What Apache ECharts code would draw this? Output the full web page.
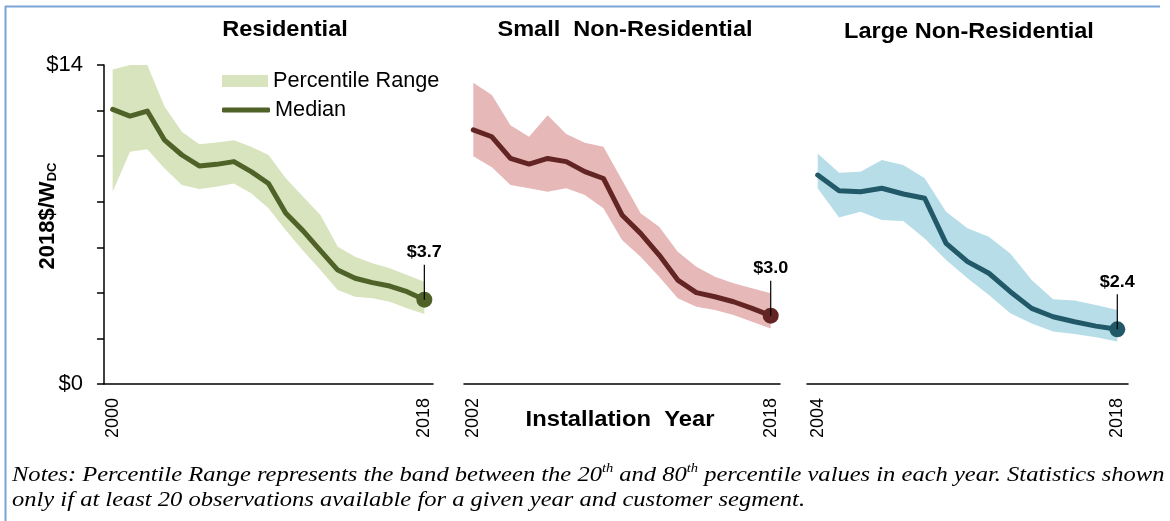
<!DOCTYPE html>
<html>
<head>
<meta charset="utf-8">
<title>Installed price trends by customer segment</title>
<script src="https://cdn.jsdelivr.net/npm/echarts@6/dist/echarts.min.js"></script>
<style>
  html, body { margin: 0; padding: 0; background: #fff; }
  #chart { width: 1170px; height: 521px; }
</style>
</head>
<body>
<div id="chart"></div>
<script>
// Installation years per customer segment
const resYears = ['2000','2001','2002','2003','2004','2005','2006','2007','2008','2009','2010','2011','2012','2013','2014','2015','2016','2017','2018'];
const smallYears = ['2002','2003','2004','2005','2006','2007','2008','2009','2010','2011','2012','2013','2014','2015','2016','2017','2018'];
const largeYears = ['2004','2005','2006','2007','2008','2009','2010','2011','2012','2013','2014','2015','2016','2017','2018'];

// Residential: median and 20th / 80th percentile (2018$/W_DC)
const resMedian = [12.05, 11.76, 11.98, 10.7, 10.05, 9.57, 9.64, 9.76, 9.32, 8.8, 7.49, 6.72, 5.85, 5.0, 4.64, 4.45, 4.3, 4.05, 3.7];
const resP20 = [8.44, 10.19, 10.3, 9.46, 8.73, 8.56, 8.66, 8.8, 8.37, 7.71, 6.75, 5.85, 5.0, 4.12, 3.83, 3.76, 3.61, 3.32, 3.07];
const resP80 = [13.8, 14.0, 14.0, 12.17, 11.07, 10.52, 10.6, 10.7, 10.41, 10.05, 9.03, 8.22, 7.42, 6.02, 5.59, 5.3, 5.08, 4.78, 4.49];

// Small non-residential
const smallMedian = [11.15, 10.85, 9.9, 9.65, 9.9, 9.76, 9.32, 9.02, 7.42, 6.61, 5.66, 4.56, 4.01, 3.83, 3.61, 3.32, 3.0];
const smallP20 = [10.0, 9.51, 8.73, 8.59, 8.44, 8.59, 8.29, 7.71, 6.32, 5.59, 4.71, 3.76, 3.39, 3.25, 3.03, 2.73, 2.44];
const smallP80 = [13.22, 12.68, 11.36, 10.85, 11.8, 10.97, 10.59, 10.41, 8.95, 7.49, 6.9, 5.8, 5.15, 4.71, 4.42, 4.2, 3.98];

// Large non-residential
const largeMedian = [9.17, 8.48, 8.44, 8.59, 8.34, 8.15, 6.17, 5.37, 4.86, 4.05, 3.32, 2.95, 2.73, 2.54, 2.4];
const largeP20 = [8.59, 7.31, 7.56, 7.2, 7.15, 6.39, 5.44, 4.64, 3.91, 3.1, 2.66, 2.3, 2.19, 2.05, 1.86];
const largeP80 = [10.12, 9.27, 9.32, 9.83, 9.61, 9.03, 7.56, 6.83, 6.46, 5.73, 4.56, 3.72, 3.66, 3.47, 3.25];

// Y scale and its labelled ticks
const yMin = 0, yMax = 14, yStep = 2;
const yLabelled = [0, 14];

const SANS = '"Liberation Sans", Arial, Helvetica, sans-serif';
const SERIF = '"Liberation Serif", "Times New Roman", serif';

const panels = [
  { title: 'Residential', years: resYears, median: resMedian, p20: resP20, p80: resP80,
    band: '#d7e4bd', line: '#4f6228', grid: { left: 104, top: 65, width: 329, height: 319 }, titleX: 285 },
  { title: 'Small  Non-Residential', years: smallYears, median: smallMedian, p20: smallP20, p80: smallP80,
    band: '#e6b9b8', line: '#632523', grid: { left: 464, top: 65, width: 316, height: 319 }, titleX: 625 },
  { title: 'Large Non-Residential', years: largeYears, median: largeMedian, p20: largeP20, p80: largeP80,
    band: '#b7dee8', line: '#215968', grid: { left: 807, top: 65, width: 321, height: 319 }, titleX: 969 }
];

const grids = [], xAxes = [], yAxes = [], series = [];

panels.forEach(function (p, k) {
  grids.push(Object.assign({ containLabel: false }, p.grid));
  const last = p.years.length - 1;

  xAxes.push({
    type: 'category', gridIndex: k, data: p.years, boundaryGap: true,
    axisLine: { show: true, lineStyle: { color: '#000', width: 1.5 } },
    axisTick: { show: false },
    axisLabel: {
      rotate: 90, margin: 14, fontSize: 18, color: '#000', fontFamily: SANS,
      interval: function (i) { return i === 0 || i === last; }
    },
    splitLine: { show: false }
  });

  yAxes.push({
    type: 'value', gridIndex: k, min: yMin, max: yMax, interval: yStep,
    show: k === 0,
    axisLine: { show: true, lineStyle: { color: '#000', width: 1.5 } },
    axisTick: { show: true, inside: false, length: 7, lineStyle: { color: '#000', width: 1.5 } },
    axisLabel: {
      margin: 21, fontSize: 22, color: '#000', fontFamily: SANS,
      formatter: function (v) { return yLabelled.indexOf(v) >= 0 ? '$' + v : ''; }
    },
    splitLine: { show: false }
  });

  // Percentile band: transparent floor at the 20th percentile, filled span up to the 80th
  const stackId = 'band' + k;
  series.push({
    type: 'line', name: 'floor' + k, xAxisIndex: k, yAxisIndex: k, stack: stackId,
    data: p.p20, symbol: 'none', silent: true,
    lineStyle: { width: 0, opacity: 0 }, z: 1
  });
  series.push({
    type: 'line', name: k === 0 ? 'Percentile Range' : p.title + ' range',
    xAxisIndex: k, yAxisIndex: k, stack: stackId,
    data: p.p80.map(function (v, i) { return +(v - p.p20[i]).toFixed(3); }),
    symbol: 'none', silent: true,
    itemStyle: { color: p.band },
    lineStyle: { width: 0, opacity: 0 },
    areaStyle: { color: p.band, opacity: 1 }, z: 2
  });

  // Median line
  series.push({
    type: 'line', name: k === 0 ? 'Median' : p.title + ' median',
    xAxisIndex: k, yAxisIndex: k, data: p.median, symbol: 'none', silent: true,
    itemStyle: { color: p.line },
    lineStyle: { color: p.line, width: 5, join: 'round', cap: 'round' }, z: 3
  });

  // Latest-year marker with a callout of its value
  series.push({
    type: 'custom', name: p.title + ' latest', xAxisIndex: k, yAxisIndex: k, clip: false, z: 4,
    data: [[last, p.median[last]]],
    renderItem: function (params, api) {
      const pt = api.coord([api.value(0), api.value(1)]);
      const val = api.value(1);
      return {
        type: 'group',
        children: [
          { type: 'circle', shape: { cx: pt[0], cy: pt[1], r: 8 }, style: { fill: p.line } },
          { type: 'line', shape: { x1: pt[0], y1: pt[1], x2: pt[0], y2: pt[1] - 35 },
            style: { stroke: '#000', lineWidth: 1.2 } },
          { type: 'text', x: pt[0], y: pt[1] - 47, scaleX: 1.06,
            style: { text: '$' + val.toFixed(1), fill: '#000', font: 'bold 17px ' + SANS,
                     align: 'center', verticalAlign: 'middle' } }
        ]
      };
    }
  });
});

const legendText = { fontSize: 21.7, color: '#000', fontFamily: SANS };

function titleText(p, y) {
  return { type: 'text', x: p.titleX, y: y, scaleX: 1.07,
           style: { text: p.title, font: 'bold 22px ' + SANS, fill: '#000', align: 'center', verticalAlign: 'middle' } };
}

const option = {
  animation: false,
  backgroundColor: '#fff',
  grid: grids,
  xAxis: xAxes,
  yAxis: yAxes,
  series: series,
  legend: [
    { data: [{ name: 'Percentile Range', icon: 'rect' }], left: 222, top: 70, padding: 0,
      itemWidth: 46, itemHeight: 12, itemGap: 0, selectedMode: false, textStyle: legendText },
    { data: [{ name: 'Median', icon: 'roundRect' }], left: 222, top: 99, padding: 0,
      itemWidth: 48, itemHeight: 5, itemGap: 0, selectedMode: false, textStyle: legendText }
  ],
  graphic: [
    // frame
    { type: 'line', shape: { x1: 5.5, y1: 6, x2: 5.5, y2: 521 }, style: { stroke: '#7ba4d6', lineWidth: 2 }, silent: true },
    { type: 'line', shape: { x1: 5, y1: 6.5, x2: 1160, y2: 6.5 }, style: { stroke: '#7ba4d6', lineWidth: 2 }, silent: true },
    // panel titles
    titleText(panels[0], 30),
    titleText(panels[1], 30),
    titleText(panels[2], 32),
    // y axis title
    { type: 'text', x: 46, y: 216, rotation: Math.PI / 2,
      style: {
        text: '{a|2018$/W}{b|DC}', align: 'center', verticalAlign: 'middle',
        rich: {
          a: { font: 'bold 22px ' + SANS, fill: '#000', lineHeight: 25, verticalAlign: 'bottom' },
          b: { font: 'bold 13px ' + SANS, fill: '#000', lineHeight: 13, verticalAlign: 'bottom' }
        }
      } },
    // x axis title
    { type: 'text', x: 620, y: 420, scaleX: 1.08,
      style: { text: 'Installation  Year', font: 'bold 22px ' + SANS, fill: '#000', align: 'center', verticalAlign: 'middle' } },
    // notes
    { type: 'text', x: 12, y: 475, scaleX: 1.115,
      style: {
        text: '{n|Notes: Percentile Range represents the band between the 20}{s|th}{n| and 80}{s|th}{n| percentile values in each year. Statistics shown}',
        align: 'left', verticalAlign: 'middle',
        rich: {
          n: { font: 'italic 22px ' + SERIF, fill: '#000', lineHeight: 25 },
          s: { font: 'italic 13px ' + SERIF, fill: '#000', lineHeight: 13, verticalAlign: 'top' }
        }
      } },
    { type: 'text', x: 12, y: 500, scaleX: 1.115,
      style: { text: 'only if at least 20 observations available for a given year and customer segment.',
               font: 'italic 22px ' + SERIF, fill: '#000', align: 'left', verticalAlign: 'middle' } }
  ]
};

const chart = echarts.init(document.getElementById('chart'), null, { renderer: 'canvas' });
chart.setOption(option);
</script>
</body>
</html>
